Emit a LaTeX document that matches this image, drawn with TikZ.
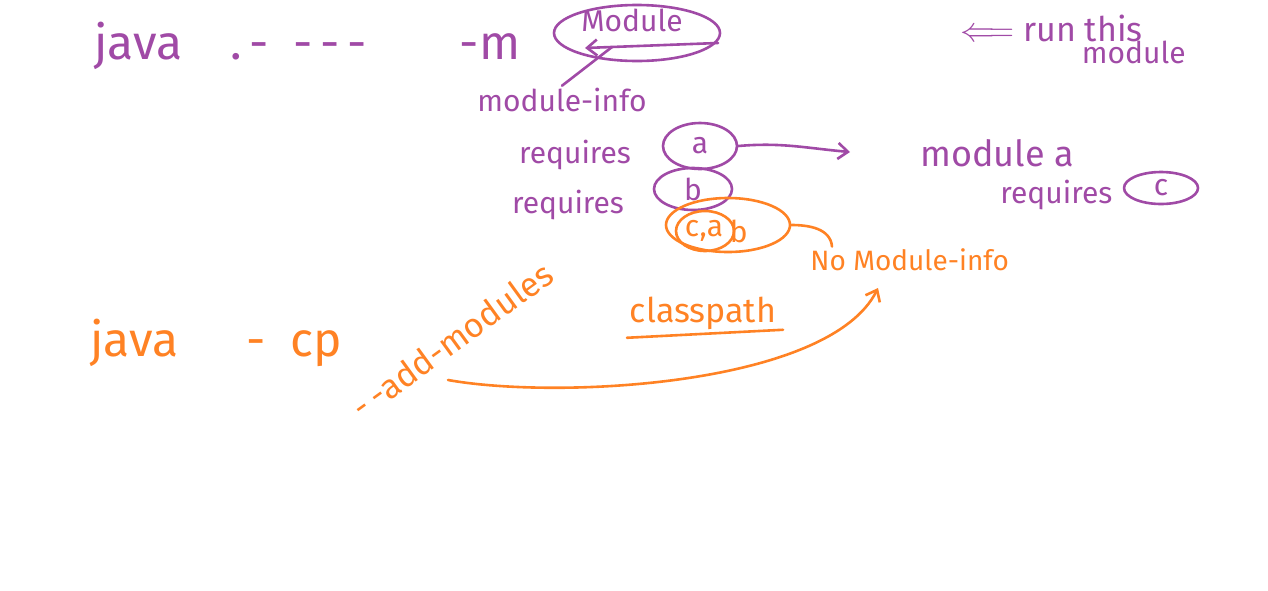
\documentclass[tikz,border=0pt]{standalone}
\usepackage{fontspec}
\setmainfont{Fira Sans}
\usetikzlibrary{arrows.meta,positioning,shapes.geometric}
\definecolor{inkpurple}{HTML}{A04AA6}
\definecolor{inkorange}{HTML}{FF8224}

\begin{document}
\begin{tikzpicture}[
    x=0.5pt, y=-0.5pt,
    node distance=4pt,
    pen/.style={line width=1.3pt, line cap=round, line join=round},
    note/.style={font=\fontsize{15}{17}\selectfont, inner sep=1pt},
    big/.style={note, font=\fontsize{24}{26}\selectfont},
    ring/.style={ellipse, draw, pen, inner sep=0pt, font=\fontsize{15}{17}\selectfont},
    arr/.style={-{Straight Barb[length=5pt, width=8pt]}, pen}
    ]
    \useasboundingbox (0,0) rectangle (1268,590);

    % purple part: the module command
    \begin{scope}[color=inkpurple, text=inkpurple]
    \node[big, anchor=west] (cmd) at (92,46) {java\quad .\,-\enskip-\,-\,-\quad\enskip\, -m};
    \node[ring, minimum width=83pt, minimum height=28pt] (modring) at (637,33) {};
    \node[note] (modname) at (632,20) {Module};
    \coordinate (modtail) at (718,43);
    \coordinate (modtip) at (585,48);
    \coordinate (modfoot) at (612,47);
    \node[note] (info) at (562,100) {module-info};
    \node[note, anchor=west, font=\fontsize{17}{19}\selectfont] (run) at (958,28) {$\Longleftarrow$ run this};
    \node[note, anchor=east] (runmod) at (1188,52) {module};

    \node[note] (reqa) at (575,155) {requires};
    \node[note] (reqb) at (568,205) {requires};
    \node[ring, minimum width=37pt, minimum height=23pt] (ringa) at (700,146) {a};
    \node[ring, minimum width=39pt, minimum height=21pt] (ringb) at (693,189) {b};
    \coordinate (atip) at (850,152);

    \node[note, anchor=west, font=\fontsize{18}{20}\selectfont] (moda) at (918,153) {module a};
    \node[note, anchor=west] (reqc) at (998,195) {requires};
    \node[ring, minimum width=37pt, minimum height=16pt] (ringc) at (1161,188) {c};

    \draw[arr] (modtail) -- (modtip);
    \draw[pen] (modfoot) -- (info.north);
    \draw[arr] (ringa.east) to[out=5, in=175] (atip);
    \end{scope}

    % orange part: the class path
    \begin{scope}[color=inkorange, text=inkorange]
    \node[ring, minimum width=62pt, minimum height=27pt] (cab) at (728,225) {};
    \node[ring, minimum width=29pt, minimum height=20pt] (ca) at (705,231) {};
    \node[note] (calabel) at (704,231) {c,a};
    \node[note, right=1pt of calabel] (blabel) {b};
    \node[note, anchor=west, font=\fontsize{14}{16}\selectfont] (noinfo) at (808,260) {No Module-info};
    \coordinate (notop) at ([xshift=12pt]noinfo.north west);
    \node[note, font=\fontsize{17}{19}\selectfont] (cp) at (703,313) {classpath};
    \node[big, anchor=west] (javacp) at (88,343) {java\quad\, -\enskip cp};
    \node[note, font=\fontsize{17}{19}\selectfont, rotate=36] (addmod) at (452,340) {-\,-add-modules};
    \coordinate (curvestart) at (448,380);
    \coordinate (curveend) at (878,288);

    \draw[pen] ([xshift=-38pt, yshift=-3pt]cp.south) -- ([xshift=40pt, yshift=1pt]cp.south);
    \draw[pen] (cab.east) to[out=0, in=95] (notop);
    \draw[arr] (curvestart) .. controls (560,400) and (830,385) .. (curveend);
    \end{scope}
\end{tikzpicture}
\end{document}
